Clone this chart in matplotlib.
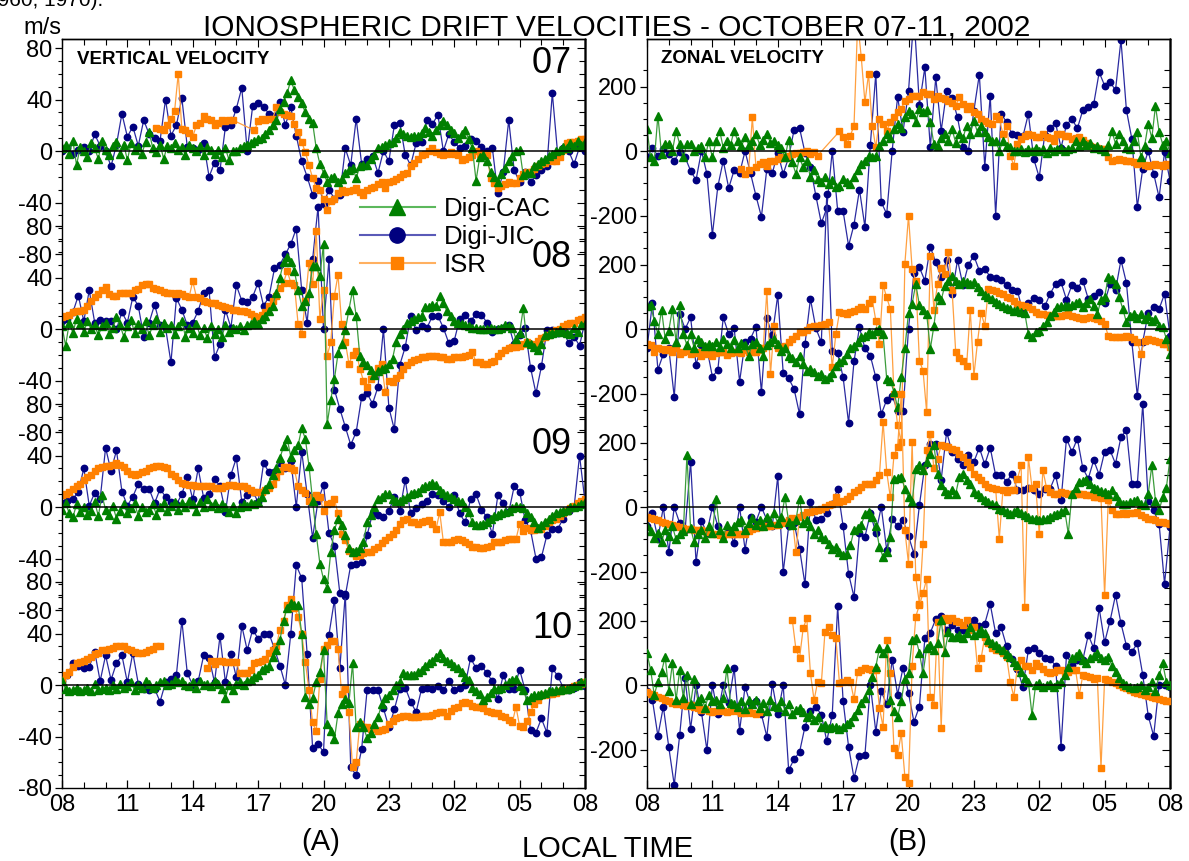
import numpy as np
import matplotlib.pyplot as plt
from matplotlib.lines import Line2D

nan = np.nan

# Ionospheric drift velocities, 08 LT Oct 07 -> 08 LT Oct 11, 2002
# Digi-JIC sampled every 15 min, Digi-CAC and ISR every 10 min (hours after 08 LT)
days = ['07', '08', '09', '10']
hour_labels = ['08', '11', '14', '17', '20', '23', '02', '05', '08']

# ---------------- vertical velocity (m/s) ----------------
vz_jic_07 = [0, 2, -2, 1, 3, 0, 13, 4,
             0, -12, 5, 29, 11, 19, 4, 24,
             13, 10, 8, 40, 12, 20, 41, 3,
             2, 1, 6, -20, -9, -15, 19, 20,
             33, 49, 0, 35, 37, 34, 29, 27,
             38, 20, 34, 12, -8, -20, -34, -23,
             -41, -30, -37, -34, 2, -11, 25, -10,
             -6, -4, -17, 0, -8, 20, 22, -3,
             -11, 6, 7, 24, 21, 28, 0, 13,
             7, 2, 4, 9, 8, 3, 0, 2,
             -33, -16, 24, -15, -24, -16, -24, -19,
             -15, -12, 45, -3, 2, 0, -10, 3,
             0]
vz_cac_07 = [2, 5, -2, 8, -11, 3,
             0, -5, 6, 2, -6, 8,
             1, -3, 4, 7, -2, 5,
             -7, 6, 1, 3, -2, 7,
             15, 2, -1, 5, -6, 4,
             2, 6, 1, 3, -3, 5,
             2, 0, 4, -3, 3, 1,
             -2, 1, -5, 2, -7, 0,
             0, 2, 4, 5, 6, 8,
             9, 10, 13, 16, 20, 24,
             33, 38, 45, 55, 47, 42,
             37, 30, 25, 22, 2, -10,
             -17, -24, -21, -20, -24, -22,
             -17, -15, -13, -21, -12, -11,
             -11, -6, -3, 2, 3, 5,
             6, 7, 10, 15, 13, 12,
             11, 12, 12, 14, 18, 15,
             12, 16, 20, 23, 20, 16,
             14, 10, 13, 16, 9, 2,
             -23, -5, -3, -8, -16, -20,
             -24, -18, -13, -8, -4, 0,
             1, -19, -17, -17, -12, -10,
             -8, -6, -4, -2, 0, 1,
             3, 2, 6, 4, 8, 5,
             7]
vz_isr_07 = [nan, nan, nan, nan, nan, nan,
             nan, nan, nan, nan, nan, nan,
             nan, nan, nan, nan, nan, nan,
             nan, nan, nan, nan, nan, nan,
             nan, nan, 18, 17, 16, 20,
             25, 31, 60, 17, 16, 14,
             11, 20, 22, 27, 25, 24,
             20, 22, 24, 23, 24, 24,
             nan, nan, nan, nan, nan, 16,
             23, 25, 24, 25, 25, 34,
             30, 29, 28, 27, 21, 15,
             7, -1, -11, -21, -29, -30,
             -37, -46, -39, -37, -33, -30,
             -32, -31, -30, -29, -32, -34,
             -30, -29, -28, -26, -24, -29,
             -24, -23, -22, -20, -18, -17,
             -12, -9, -6, -3, -2, 0,
             2, -1, -2, -3, -2, -1,
             -2, -3, -7, -6, -5, -3,
             0, -2, -3, -3, -21, -25,
             -29, -27, -26, -24, -25, -25,
             -21, -18, -16, -16, -14, -12,
             -10, -9, -7, -8, -8, -5,
             1, 6, 7, 7, 8, 9,
             9]

vz_jic_08 = [6, 8, 13, 26, 6, 30, 5, 7,
             6, 6, 0, 13, 5, 25, 18, -6,
             5, 19, 3, 1, -26, 24, 15, 3,
             5, 14, 28, 30, -22, -12, 15, 1,
             34, 22, 21, 25, 36, 18, 25, 47,
             50, 58, 66, 78, 30, 5, 54, 95,
             0, 54, -47, -62, -76, -90, -80, -53,
             -50, -58, -45, 0, -61, -78, -28, -14,
             10, -1, 2, 1, 10, 10, 1, -11,
             -9, 8, 11, 6, 12, 11, 5, -2,
             0, 1, 3, -12, -5, 1, -30, -50,
             -29, -1, -1, -3, -1, -11, -6, -13,
             6]
vz_cac_08 = [2, -13, 5, -3, 8, 4,
             -2, 6, 0, 3, -5, 2,
             5, -4, 1, 9, 3, -6,
             2, 7, -3, 4, 0, 6,
             -5, 3, 8, -2, 5, 1,
             3, -4, 2, 6, -6, 1,
             -3, 4, -5, 1, -7, 2,
             -4, 0, -6, 3, -2, 1,
             0, 2, -1, 3, 4, 6,
             4, 8, 10, 14, 18, 28,
             40, 52, 56, 52, 45, 30,
             18, 22, 28, 49, 49, 41,
             66, -74, -55, -39, -19, -12,
             -1, 15, 30, 10, -21, -26,
             -28, -32, -36, -33, -31, -30,
             -27, -23, -10, -4, 0, 5,
             6, 8, 9, 10, 17, 17,
             19, 18, 26, 20, 14, 10,
             6, 5, 4, 3, 2, 1,
             1, 0, 0, 0, 1, 0,
             0, 1, 3, 2, 1, -8,
             -3, 16, -10, -12, -14, -16,
             -12, -5, -4, -3, -2, -1,
             -2, -3, -4, 1, -2, 3,
             4]
vz_isr_08 = [9, 10, 11, 13, 14, 14,
             15, 18, 22, 25, 27, 30,
             33, 27, 26, 26, 28, 28,
             28, 28, 30, 31, 34, 35,
             35, 32, 31, 30, 29, 28,
             28, 27, 28, 27, 26, 25,
             37, 25, 24, 22, 21, 20,
             20, 19, 18, 17, 16, 15,
             15, 14, 14, 13, 12, 10,
             9, 11, 13, 18, 22, 26,
             32, 36, 45, 36, 34, 4,
             -4, 22, 51, 35, 76, 8,
             30, -21, -10, 26, 42, 4,
             -10, -27, -20, -17, -31, -40,
             -45, -39, -36, -30, -27, -49,
             -40, -41, -38, -36, -31, -28,
             -26, -24, -23, -22, -22, -21,
             -21, -21, -22, -22, -23, -23,
             -22, -22, -22, -21, -20, -18,
             -26, -26, -27, -27, -26, -25,
             -21, -19, -16, -15, -14, -14,
             -13, -12, -10, -12, -13, -9,
             -7, -6, -5, -3, -1, 0,
             2, 4, 5, 5, 7, 8,
             9]

vz_jic_09 = [3, 5, 6, 12, 30, 1, 11, 6,
             46, 28, 44, 12, 1, 8, 18, 14,
             14, 3, 14, 8, 4, 2, 10, 23,
             6, 30, 7, 10, 22, 16, -4, 25,
             38, 4, 9, 12, 4, 34, 27, 27,
             34, 30, 36, 0, 43, 10, -24, 5,
             17, -20, -30, -67, -69, -45, -44, -43,
             -22, -5, -6, -8, -3, 8, -3, 21,
             -5, -1, 2, 5, 10, 9, 5, 0,
             9, -5, -12, 6, 10, -2, -8, -21,
             9, 3, -4, 16, 12, -10, -18, -40,
             -39, -22, -17, -17, -9, -3, 0, 40,
             4]
vz_cac_09 = [-2, 3, -5, -8, 2, -4,
             0, -6, -3, 4, -7, 9,
             -2, -6, 1, -9, -3, 2,
             -5, -1, 3, -7, 0, -4,
             -2, 2, -6, 0, 3, -3,
             1, 4, -2, 3, 0, 5,
             2, -3, 4, 0, 6, 1,
             3, -1, 2, 0, -4, 1,
             -5, 0, 2, 1, 3, 2,
             4, 8, 14, 18, 25, 30,
             38, 47, 53, 39, 44, 48,
             61, 53, 32, 5, -21, -44,
             -56, -63, -35, -18, -9, -14,
             -22, -32, -35, -34, -32, -27,
             -12, -6, 0, 6, 8, 10,
             10, 6, 5, 5, 6, 8,
             10, 11, 12, 15, 16, 17,
             19, 17, 13, 11, 9, 8,
             6, 5, 4, 0, -4, -12,
             -14, -14, -13, -12, -9, -7,
             -6, -5, -4, -3, -1, 1,
             0, -1, -5, -8, -12, -16,
             -14, -12, -9, -7, -5, -4,
             -3, -2, 0, 0, 1, 2,
             4]
vz_isr_09 = [9, 10, 12, 14, 16, 18,
             21, 23, 25, 28, 30, 31,
             32, 32, 33, 34, 33, 31,
             28, 26, 25, 26, 27, 28,
             30, 31, 32, 32, 31, 30,
             26, 24, 21, 19, 18, 17,
             17, 16, 16, 16, 16, 16,
             15, 15, 15, 16, 17, 17,
             16, 16, 16, 15, 13, 12,
             12, 12, 13, 15, 18, 23,
             28, 31, 31, 30, 29, 16,
             13, 11, 5, 8, 9, 8,
             -3, 2, 3, 6, -5, -21,
             -26, -34, -36, -38, -37, -36,
             -35, -35, -33, -31, -28, -26,
             -23, -21, -18, -13, -10, -9,
             -12, -12, -13, -12, -11, -10,
             -13, -17, -4, -27, -27, -27,
             -26, -25, -26, -27, -29, -31,
             -31, -32, -32, -31, -30, -27,
             -27, -27, -26, -25, -25, -25,
             -13, -19, -16, -18, -18, -17,
             -17, -15, -12, -10, -9, -7,
             -5, -3, -1, 1, 3, 5,
             6]

vz_jic_10 = [3, 8, 17, 15, 13, 14, 26, 3,
             23, 4, 17, 23, 2, 25, 1, -3,
             -4, -3, -13, 2, 5, 8, 50, 9,
             0, 3, 23, 21, 2, 38, 2, 24,
             6, 46, 27, 43, 36, 40, 40, 28,
             15, 0, 40, 93, 83, 24, -49, -46,
             -52, 39, 66, 13, 71, -64, -70, -50,
             -4, -4, -4, -18, -33, -19, -3, -2,
             -13, -21, -3, -2, -3, -1, -4, 3,
             -4, -2, 0, 21, 13, 15, 9, 3,
             -11, 8, -3, -3, 12, -4, -35, -37,
             -26, -37, 13, 7, -2, -4, -2, 2,
             -1]
vz_cac_10 = [3, -3, -5, -4, -2, -5,
             -4, -2, -5, 1, -4, -3,
             -2, -4, 0, -3, 1, -2,
             -1, 2, -4, 0, -2, 3,
             1, -2, 0, 2, 3, 0,
             1, 4, 2, 3, 0, -1,
             2, -2, 3, 0, 1, -1,
             3, 1, -3, -10, 0, -4,
             1, 2, 0, 3, 4, 6,
             8, 12, 13, 15, 22, 27,
             35, 50, 60, 64, 62, 62,
             40, -9, -15, -10, 2, 10,
             27, -30, -36, -42, -22, -15,
             -11, -14, 17, -33, -29, -33,
             -41, -37, -30, -25, -15, -10,
             -8, -4, 0, 2, 9, 8,
             8, 8, 10, 12, 15, 17,
             19, 22, 25, 21, 19, 17,
             15, 13, 10, 6, 4, -2,
             -5, -7, -12, -9, -6, -3,
             -3, -2, 0, 2, 4, 5,
             -1, -4, -12, -9, -8, -8,
             -7, -6, -5, -5, -4, -4,
             -3, -3, -2, -1, 0, 2,
             2]
vz_isr_10 = [4, 8, 10, 14, 17, 18,
             19, 20, 22, 24, 25, 27,
             27, 28, 29, 30, 30, 30,
             28, 27, 26, 25, 25, 26,
             27, 28, 30, 30, nan, nan,
             nan, nan, nan, nan, nan, nan,
             nan, nan, nan, nan, 13, 19,
             16, 19, 19, 18, 18, 18,
             18, 9, 9, 9, 12, 17,
             18, 19, 20, 25, 27, 30,
             43, 50, 62, 67, 60, 53,
             40, 18, -4, -29, -36, 5,
             28, 31, 34, 34, 28, -7,
             -3, -21, -64, -60, -30, -33,
             -33, -34, -34, -36, -35, -34,
             -30, -28, -26, -25, -24, -24,
             -25, -25, -25, -24, -24, -24,
             -23, -22, -21, -21, -24, -20,
             -18, -17, -14, -13, -14, -16,
             -17, -17, -18, -20, -21, -22,
             -22, -24, -25, -27, -29, -17,
             -32, -33, -28, -21, -15, -12,
             -8, -8, -7, -7, -6, -5,
             -4, -3, -2, -1, 0, 1,
             2]

# ---------------- zonal velocity (m/s) ----------------
zn_jic_07 = [-20, 10, -15, 5, -10, -30, -4, -20,
             -61, -90, 0, -71, -260, -110, -30, -115,
             -59, -69, 0, -69, -139, -204, -55, -69,
             -5, -71, -20, 66, 71, -5, -51, -139,
             -224, -177, 0, -185, -187, -294, -228, -120,
             -235, 20, 240, -159, -195, 0, 168, 60,
             185, 420, 144, 259, 11, 228, 63, 185,
             165, 104, 13, 1, 125, 237, -49, 172,
             -200, 115, 90, 53, 50, 45, 115, -25,
             -82, 50, 71, 86, 10, 82, 99, 70,
             127, 137, 146, 244, 203, 213, 189, 344,
             127, 37, -173, -55, 0, -70, -144, -4,
             -92]
zn_cac_07 = [68, -20, -30, 110, -9, 22,
             22, 0, 63, 22, -20, 22,
             22, 0, 10, 15, -20, 30,
             -20, 30, 63, 10, 32, 20,
             63, 30, 15, 42, 20, 30,
             53, 20, 35, 53, 25, 32,
             20, 10, -20, 35, -35, -71,
             -20, -51, -30, -82, -60, -87,
             -97, -80, -102, -90, -113, -107,
             -87, -95, -102, -82, -60, -40,
             -30, -14, -20, -14, 17, 32,
             53, 40, 68, 84, 70, 104,
             125, 115, 90, 130, 120, 127,
             89, 22, 17, 40, 53, 32,
             68, 25, 53, 40, 79, 53,
             94, 58, 79, 60, 42, 32,
             32, 0, 32, 15, 11, 0,
             0, 6, -4, 5, 0, 10,
             0, 5, -5, 8, 0, 5,
             10, 0, 5, 10, 32, 15,
             32, 20, 25, 10, 15, 5,
             0, 20, 63, 22, 53, 30,
             10, 5, 30, 60, -20, 15,
             84, 40, 140, 60, 20, 30,
             -5]
zn_isr_07 = [nan, nan, nan, nan, nan, nan,
             nan, nan, nan, nan, nan, nan,
             nan, nan, nan, nan, nan, nan,
             nan, nan, nan, nan, nan, nan,
             nan, nan, -56, -71, -60, 104,
             -50, -40, -35, -45, -30, -30,
             -25, -20, -22, -14, -10, -5,
             -5, -2, 1, -9, -4, -14,
             nan, nan, nan, nan, nan, 61,
             42, 22, 48, 79, 400, 290,
             151, 239, 79, 11, 99, 84,
             63, 89, 104, 120, 130, 156,
             161, 172, 172, 172, 182, 177,
             177, 161, 172, 165, 161, 156,
             150, 141, 166, 145, 130, 141,
             120, 115, 99, 94, 88, 84,
             110, 100, 53, 79, -14, -45,
             22, 37, 48, 53, 50, 42,
             42, 53, 42, 40, 32, 53,
             53, 48, 45, 37, 40, 42,
             35, 25, 15, 11, 10, 6,
             6, -20, -30, -28, -25, -28,
             -30, -32, -35, -40, -38, -42,
             -45, -42, -40, -42, -45, -40,
             -42]

zn_jic_08 = [-60, 81, -126, -78, -60, -210, 47, 0,
             36, -111, -50, -60, -148, -127, 36, -16,
             2, -163, -40, -30, 7, -196, 34, -20,
             105, -136, -153, -186, -264, -47, 93, 2,
             -41, 420, -67, -74, -150, -291, -100, 5,
             -60, -83, -150, -264, -220, -207, -253, -254,
             0, 174, 191, 150, 255, 207, 160, 215,
             110, 214, 135, 200, 227, 181, 186, 162,
             157, 152, 136, 122, 119, 52, 80, 95,
             90, 70, 109, 140, 145, 91, 136, 128,
             150, 93, 103, 114, 82, 140, 120, 214,
             143, -41, -207, -40, 50, 67, 62, 109,
             -21]
zn_cac_08 = [72, 74, 26, -16, 60, -30,
             -5, 62, -40, 74, -16, -50,
             -16, -60, -30, -41, -52, -45,
             -52, -40, -57, -30, -45, -60,
             -35, -60, -42, -50, -83, -45,
             -40, -60, -83, -50, -40, -30,
             -45, -67, -60, -83, -90, -103,
             -83, -110, -129, -125, -134, -145,
             -140, -155, -150, -135, -114, -103,
             -95, -78, -60, -52, -41, -25,
             -21, -10, -15, -5, 0, -16,
             -155, -160, -196, -243, -150, -60,
             50, 78, 140, 74, 60, 47,
             -62, 10, 103, 90, 134, 150,
             165, 150, 140, 150, 145, 140,
             145, 130, 119, 105, 98, 93,
             83, 78, 72, 65, 62, 55,
             58, 52, 50, -16, -26, -10,
             -5, 10, 21, 40, 52, 67,
             72, 70, 72, 75, 80, 83,
             67, 80, 93, 70, 47, 90,
             100, 160, 155, 140, 100, 62,
             21, 40, 47, 35, 45, 30,
             40, 25, 30, 10, 5, -30,
             -78]
zn_isr_08 = [-47, -50, -72, -60, -62, -65,
             -62, -70, -60, -78, -70, -68,
             -78, -75, -70, -83, -78, -72,
             -83, -75, -70, -72, -80, -75,
             -72, -70, -75, -65, -72, -70,
             -72, -65, -60, 119, -140, 10,
             -60, -55, -52, -40, -30, -21,
             -10, -8, -3, 5, 8, 10,
             12, 16, 21, -119, -16, 52,
             50, 47, 52, 57, 62, 67,
             62, 80, 93, 26, -47, 136,
             98, 62, -200, -298, -351, 202,
             351, 186, 150, -98, -129, -258,
             227, 60, 140, 190, 171, 238,
             120, -72, -90, -100, -114, 60,
             -145, -40, 50, 10, 124, 122,
             119, 112, 109, 100, 95, 88,
             78, 75, 72, 68, 62, 52,
             47, 45, 44, 42, 41, 41,
             41, 44, 47, 40, 36, 33,
             31, 33, 36, 34, 31, 25,
             16, -21, -24, -26, -26, -24,
             -21, -25, -31, -40, -78, -36,
             -31, -33, -38, -41, -45, -47,
             -57]

zn_jic_09 = [-60, -20, -98, 0, -140, 0, -50, -70,
             140, -171, -44, -80, 0, -60, -90, -70,
             -111, 0, -132, -30, -45, 0, -40, -60,
             95, -202, -60, -50, -129, -240, 16, -40,
             -36, -20, 10, 57, -60, -207, -279, -80,
             -93, -20, -80, 0, -134, -36, -60, -40,
             -90, -145, 5, 129, 196, 196, 85, 233,
             170, 150, 130, 160, 140, 184, 132, 184,
             98, 100, 78, 103, 52, 52, 60, 52,
             40, 57, 57, 98, 21, 212, 171, 212,
             120, 88, 145, 100, 171, 176, 134, 217,
             238, 72, 70, 320, 20, -10, -52, -238,
             -62]
zn_cac_09 = [-60, -75, -95, -80, -110, -70,
             -90, -60, -100, -85, -75, 160,
             -65, -110, -85, -70, -95, -60,
             -80, 26, -70, -95, -55, -75,
             -60, -45, -41, -70, -50, -35,
             -55, -40, -60, -30, -45, -20,
             -50, -30, 31, -45, -55, -40,
             26, -50, -40, -60, -83, -70,
             -93, -100, -114, -129, -125, -140,
             -150, -145, -119, -72, -65, -57,
             -21, -16, -30, -60, -124, -155,
             -140, -93, 88, 90, 93, 57,
             30, 16, 119, 129, 114, 140,
             165, 191, 103, 67, 50, 41,
             52, 41, 93, 103, 85, 72,
             47, 40, 31, 21, 16, 10,
             5, -5, -10, -16, -21, -15,
             -10, -20, -25, -31, -36, -36,
             -41, -38, -36, -30, -25, -21,
             -15, -10, -83, 41, 60, 78,
             80, 83, 70, 60, 55, 50,
             45, 41, 52, 35, 20, 10,
             10, 15, 20, 21, 10, 5,
             40, 129, 20, -10, 30, 60,
             150]
zn_isr_09 = [-31, -35, -38, -41, -45, -50,
             -52, -55, -60, -62, -65, -67,
             -67, -70, -72, -72, -75, -78,
             -83, -85, -88, -86, -84, -83,
             -85, -83, -84, -83, -75, -67,
             -65, -62, -60, -60, -58, -55,
             -55, -50, -45, -40, -35, -140,
             -30, -25, -16, -15, -12, -10,
             -5, 0, 5, 10, 31, 16,
             20, 26, 35, 45, 52, 62,
             72, 72, 72, 83, 98, 264,
             109, 30, 160, 186, 350, -72,
             -176, 202, -217, -300, -114, 176,
             227, 120, 150, 191, 188, 186,
             181, 176, 165, 155, 140, 124,
             103, 93, 85, 72, 62, 60,
             57, -98, 52, 47, 52, 52,
             88, 129, -310, 155, 60, 70,
             -83, 114, 60, 47, 41, 41,
             47, 44, 41, 41, 41, 40,
             41, 38, 36, 31, 30, 28,
             -274, 21, -10, -21, -21, -18,
             -21, -20, -18, -16, -25, -30,
             -36, -38, -41, -45, -48, -50,
             -52]

zn_jic_10 = [-20, -47, -158, -67, -193, -310, -155, 21,
             -136, 0, -85, -202, 0, -90, 0, -55,
             52, -142, -5, -60, -50, -91, -160, 3,
             -90, 0, -264, -230, -208, -129, -80, -67,
             -93, -174, -93, 245, -50, -191, -289, -220,
             -217, 0, -145, -20, -60, 78, -30, 54,
             -25, -114, -67, 145, 162, 204, 214, 171,
             185, 170, 172, 190, 202, 183, 190, 251,
             160, 179, 120, 80, 50, -7, 109, 114,
             98, 83, 80, 60, -193, 93, 62, 78,
             78, 155, 114, 238, 132, 199, 279, 191,
             122, 103, 129, 31, -95, -158, 0, 0,
             -5]
zn_cac_10 = [98, 47, -31, 10, 41, 88,
             -20, 67, -47, 47, -40, 30,
             -60, 20, -50, -40, -70, -30,
             -50, -45, -60, -40, 52, -55,
             -60, -67, -50, -75, -45, -60,
             -47, -70, -55, -80, -45, -65,
             -67, -50, -80, -60, -90, -78,
             -70, -85, -98, -90, -108, -100,
             -129, -125, -134, -130, -129, -135,
             -129, -120, -114, -95, -78, -57,
             -40, -16, 26, 57, 114, 100,
             114, -47, -80, -98, -50, 20,
             36, 140, 145, 100, 36, 114,
             124, 110, 129, 202, 103, 165,
             150, 150, 155, 145, 160, 181,
             155, 160, 170, 160, 140, 130,
             124, 114, 108, 95, 88, 72,
             62, 40, 21, 10, -93, 0,
             5, -5, 0, 3, -5, 2,
             10, 30, 57, 83, 90, 98,
             78, 67, 83, 90, 98, 85,
             78, 88, 60, 40, 21, 5,
             0, -5, -10, -5, 0, -15,
             -5, 10, -20, 30, 67, 10,
             0]
zn_isr_10 = [-21, -28, -31, -36, -40, -47,
             -50, -57, -60, -57, -62, -65,
             -62, -67, -72, -78, -75, -80,
             -83, -80, -78, -82, -85, -80,
             -78, -82, -86, -88, -85, -88,
             -90, -85, nan, nan, nan, nan,
             nan, nan, nan, nan, 202, 111,
             83, 176, 207, 36, -47, 10,
             5, 165, 181, 155, 145, 5,
             10, 15, 10, -44, 41, 47,
             52, 50, 48, 47, -72, -129,
             140, 36, -196, -217, -150, -284,
             -305, 60, 212, 248, 284, 330,
             -36, -62, 196, -134, 207, 202,
             207, 200, 196, 186, 202, 171,
             180, 52, 83, 150, 129, 114,
             110, 108, 98, 88, 10, -36,
             57, 78, 60, 60, 47, 67,
             60, 50, 41, 36, 40, 45,
             47, 36, 40, 45, 47, -31,
             30, 28, 26, 20, 22, -258,
             20, 15, 10, 5, 0, -5,
             -10, -15, -21, -25, -28, -31,
             -33, -36, -41, -44, -47, -50,
             -50]

vertical = [(vz_cac_07, vz_jic_07, vz_isr_07), (vz_cac_08, vz_jic_08, vz_isr_08),
            (vz_cac_09, vz_jic_09, vz_isr_09), (vz_cac_10, vz_jic_10, vz_isr_10)]
zonal = [(zn_cac_07, zn_jic_07, zn_isr_07), (zn_cac_08, zn_jic_08, zn_isr_08),
         (zn_cac_09, zn_jic_09, zn_isr_09), (zn_cac_10, zn_jic_10, zn_isr_10)]

# ---------------- layout (pixels of the 1189x861 picture) ----------------
W, H = 1189, 861
TOP, BOT = 39, 788
ZERO = [151, 329, 507, 685]

c_cac, c_cac_line = '#008000', '#3c9c3c'
c_jic, c_jic_line = '#00007f', '#2a2aa0'
c_isr, c_isr_line = '#ff8000', '#ffa040'

plt.rcParams['font.family'] = ['Liberation Sans', 'DejaVu Sans']
plt.rcParams['axes.linewidth'] = 1.0
fig = plt.figure(figsize=(W / 100, H / 100), dpi=100)

columns = [
    dict(x0=62, x1=585, scale=1.2875, major=[-80, -40, 0, 40, 80],
         minor=list(range(-80, 81, 10)), data=vertical),
    dict(x0=647, x1=1170, scale=0.3225, major=[-200, 0, 200],
         minor=list(range(-250, 251, 50)), data=zonal),
]

for col in columns:
    rect = [col['x0'] / W, 1 - BOT / H, (col['x1'] - col['x0']) / W, (BOT - TOP) / H]
    for k in range(4):
        cac, jic, isr = col['data'][k]
        ax = fig.add_axes(rect)
        ax.patch.set_alpha(0)
        z = ZERO[k]
        ax.set_xlim(0, 24)
        ax.set_ylim(-(BOT - z) / col['scale'], (z - TOP) / col['scale'])

        t_j = np.linspace(0, 24, len(jic))
        t_c = np.linspace(0, 24, len(cac))
        t_i = np.linspace(0, 24, len(isr))
        isr = np.array(isr, dtype=float)
        if k == 0:
            # the first day's ISR line runs straight across its data gap
            keep = ~np.isnan(isr)
            t_i, isr = t_i[keep], isr[keep]

        ax.plot(t_j, jic, color=c_jic_line, lw=0.9, marker='o', ms=4.6,
                mfc=c_jic, mec=c_jic, zorder=2)
        ax.plot(t_i, isr, color=c_isr_line, lw=0.9, marker='s', ms=4.1,
                mfc=c_isr, mec=c_isr, zorder=3)
        ax.plot(t_c, cac, color=c_cac_line, lw=0.9, marker='^', ms=5.2,
                mfc=c_cac, mec=c_cac, zorder=4)
        ax.axhline(0, color='black', lw=1.1, zorder=5)

        ax.set_yticks(col['major'])
        ax.set_yticklabels([str(v) for v in col['major']], fontsize=17)
        ax.set_yticks(col['minor'], minor=True)
        ax.tick_params(axis='y', which='major', direction='out', length=5, width=0.9, pad=2)
        ax.tick_params(axis='y', which='minor', direction='out', length=3, width=0.8)
        sec = ax.secondary_yaxis('right')
        sec.set_yticks(col['major'])
        sec.set_yticks(col['minor'], minor=True)
        sec.tick_params(which='both', direction='in', labelright=False, width=0.8)
        sec.tick_params(which='major', length=6)
        sec.tick_params(which='minor', length=4)

        if k < 3:
            ax.xaxis.set_visible(False)
            for s in ax.spines.values():
                s.set_visible(False)
        else:
            ax.set_xticks(range(0, 25, 3))
            ax.set_xticklabels(hour_labels, fontsize=17)
            ax.set_xticks(range(0, 25), minor=True)
            ax.tick_params(axis='x', which='major', direction='in', length=6, width=0.9, pad=4)
            ax.tick_params(axis='x', which='minor', direction='in', length=4, width=0.8)
            top = ax.secondary_xaxis('top')
            top.set_xticks(range(0, 25, 3))
            top.set_xticks(range(0, 25), minor=True)
            top.tick_params(which='both', direction='in', labeltop=False, width=0.8)
            top.tick_params(which='major', length=6)
            top.tick_params(which='minor', length=4)

# ---------------- texts ----------------
def px(x, y):
    return x / W, 1 - y / H

fig.text(*px(617, 36), 'IONOSPHERIC DRIFT VELOCITIES - OCTOBER 07-11, 2002',
         ha='center', va='baseline', fontsize=21.5)
# fragment of the caption above the figure, cut by the top edge as in the source
fig.text(*px(103, 6), '1960, 1970).', ha='right', va='baseline', fontsize=15)
fig.text(*px(42, 34), 'm/s', ha='center', va='baseline', fontsize=17)
fig.text(*px(77, 64), 'VERTICAL VELOCITY', ha='left', va='baseline',
         fontsize=13.5, fontweight='bold')
fig.text(*px(661, 63), 'ZONAL VELOCITY', ha='left', va='baseline',
         fontsize=13.5, fontweight='bold')
for day, yb in zip(days, [73, 267, 454, 638]):
    fig.text(*px(572, yb), day, ha='right', va='baseline', fontsize=26)
fig.text(*px(321, 850), '(A)', ha='center', va='baseline', fontsize=21)
fig.text(*px(908, 850), '(B)', ha='center', va='baseline', fontsize=21)
fig.text(*px(608, 857), 'LOCAL TIME', ha='center', va='baseline', fontsize=21)

handles = [
    Line2D([], [], color='#5cb85c', lw=1.5, marker='^', ms=12, mfc=c_cac, mec=c_cac),
    Line2D([], [], color='#5a5ab8', lw=1.5, marker='o', ms=11, mfc=c_jic, mec=c_jic),
    Line2D([], [], color='#ffb060', lw=1.5, marker='s', ms=9, mfc=c_isr, mec=c_isr),
]
fig.legend(handles, ['Digi-CAC', 'Digi-JIC', 'ISR'], loc='upper left',
           bbox_to_anchor=px(360, 197), frameon=False, fontsize=18.5,
           handlelength=2.9, handletextpad=0.35, labelspacing=0.15,
           borderpad=0, borderaxespad=0)

fig.savefig('out.png', dpi=100)
